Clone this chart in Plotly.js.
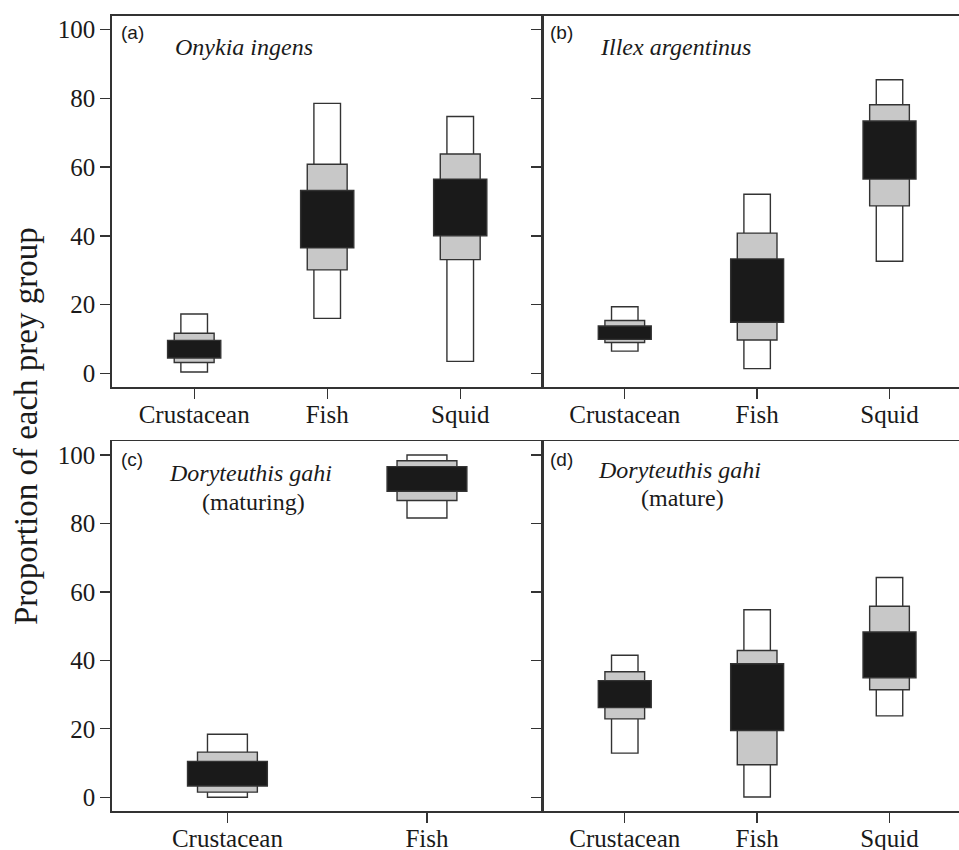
<!DOCTYPE html>
<html>
<head>
<meta charset="utf-8">
<script src="https://cdn.plot.ly/plotly-3.0.1.min.js"></script>
<style>html,body{margin:0;padding:0;background:#fff;}#chart{width:959px;height:850px;}</style>
</head>
<body>
<div id="chart"></div>
<script>
// ---- Data (credible intervals, % of diet) ----
const categories3 = ['Crustacean', 'Fish', 'Squid'];
const categories2 = ['Crustacean', 'Fish'];

// (a) Onykia ingens
const onykia95Lo = [0.4, 16.0, 3.5];
const onykia95Hi = [17.3, 78.5, 74.7];
const onykia75Lo = [3.2, 30.1, 33.1];
const onykia75Hi = [11.7, 60.8, 63.8];
const onykia50Lo = [4.5, 36.5, 40.0];
const onykia50Hi = [9.6, 53.2, 56.5];

// (b) Illex argentinus
const illex95Lo = [6.5, 1.4, 32.6];
const illex95Hi = [19.4, 52.1, 85.4];
const illex75Lo = [9.0, 9.7, 48.7];
const illex75Hi = [15.4, 40.8, 78.1];
const illex50Lo = [9.9, 14.9, 56.5];
const illex50Hi = [13.8, 33.3, 73.4];

// (c) Doryteuthis gahi (maturing)
const maturing95Lo = [0.0, 81.6];
const maturing95Hi = [18.4, 100.0];
const maturing75Lo = [1.5, 86.7];
const maturing75Hi = [13.2, 98.3];
const maturing50Lo = [3.3, 89.4];
const maturing50Hi = [10.5, 96.6];

// (d) Doryteuthis gahi (mature)
const mature95Lo = [12.9, 0.1, 23.8];
const mature95Hi = [41.5, 54.8, 64.2];
const mature75Lo = [22.9, 9.5, 31.4];
const mature75Hi = [36.7, 42.9, 55.8];
const mature50Lo = [26.2, 19.5, 34.9];
const mature50Hi = [34.1, 39.0, 48.3];

const yTicks = [0, 20, 40, 60, 80, 100];

// ---- Build traces ----
const W = 959, H = 850;
const LINE = '#333333';
const styles = [
  {fill: '#ffffff', width: 0.2},
  {fill: '#c8c8c8', width: 0.3},
  {fill: '#1a1a1a', width: 0.4}
];

function panelTraces(cats, los, his, xa, ya) {
  return los.map((lo, i) => ({
    type: 'bar',
    x: cats,
    base: lo,
    y: his[i].map((h, j) => h - lo[j]),
    width: cats.map(() => styles[i].width),
    marker: {color: styles[i].fill, line: {color: LINE, width: 1.4}},
    xaxis: xa, yaxis: ya,
    hoverinfo: 'skip',
    showlegend: false
  }));
}

const data = [].concat(
  panelTraces(categories3, [onykia95Lo, onykia75Lo, onykia50Lo], [onykia95Hi, onykia75Hi, onykia50Hi], 'x', 'y'),
  panelTraces(categories3, [illex95Lo, illex75Lo, illex50Lo], [illex95Hi, illex75Hi, illex50Hi], 'x2', 'y2'),
  panelTraces(categories2, [maturing95Lo, maturing75Lo, maturing50Lo], [maturing95Hi, maturing75Hi, maturing50Hi], 'x3', 'y3'),
  panelTraces(categories3, [mature95Lo, mature75Lo, mature50Lo], [mature95Hi, mature75Hi, mature50Hi], 'x4', 'y4')
);

// ---- Layout helpers ----
const px = v => v / W;
const py = v => 1 - v / H;
const serif = 'Liberation Serif';
const sans = 'Liberation Sans';
const TXT = '#1a1a1a';

function xAxis(dom, range, cats, anchor) {
  return {
    domain: dom, anchor: anchor, type: 'category',
    categoryorder: 'array', categoryarray: cats,
    range: range, showline: true, linecolor: LINE, linewidth: 1.5,
    mirror: true, ticks: 'outside', ticklen: 10, tickwidth: 1.3, tickcolor: LINE,
    ticklabelstandoff: -6,
    showgrid: false, zeroline: false, fixedrange: true,
    tickfont: {family: serif, size: 25, color: TXT}
  };
}
function yAxis(dom, anchor, labels, mirror) {
  return {
    domain: dom, anchor: anchor, range: [-4, 104],
    tickvals: yTicks, ticktext: yTicks.map(String),
    showticklabels: labels,
    showline: true, linecolor: LINE, linewidth: 1.5, mirror: mirror,
    ticks: 'outside', ticklen: 10, tickwidth: 1.3, tickcolor: LINE,
    showgrid: false, zeroline: false, fixedrange: true,
    tickfont: {family: serif, size: 25, color: TXT}
  };
}

const leftDom = [px(111.7), px(542.7)];
const rightDom = [px(542.7), 1];
const topDom = [py(387.2), py(15.7)];
const botDom = [py(811), py(441.3)];

function ann(text, x, y, font, xanchor) {
  return {text: text, x: px(x), y: py(y), xref: 'paper', yref: 'paper',
    showarrow: false, xanchor: xanchor || 'center', yanchor: 'middle', font: font};
}
const labFont = {family: sans, size: 19, color: TXT};
const spFont = {family: serif, size: 24, color: TXT};

const layout = {
  width: W, height: H,
  margin: {l: 0, r: 0, t: 0, b: 0},
  paper_bgcolor: '#ffffff', plot_bgcolor: '#ffffff',
  barmode: 'overlay', showlegend: false,
  xaxis: xAxis(leftDom, [-0.62, 2.62], categories3, 'y'),
  yaxis: yAxis(topDom, 'x', true, true),
  xaxis2: xAxis(rightDom, [-0.62, 2.525], categories3, 'y2'),
  yaxis2: yAxis(topDom, 'x2', false, false),
  xaxis3: xAxis(leftDom, [-0.58, 1.58], categories2, 'y3'),
  yaxis3: yAxis(botDom, 'x3', true, true),
  xaxis4: xAxis(rightDom, [-0.62, 2.525], categories3, 'y4'),
  yaxis4: yAxis(botDom, 'x4', false, false),
  annotations: [
    ann('(a)', 119, 33, labFont, 'left'),
    ann('<i>Onykia ingens</i>', 244, 47, spFont),
    ann('(b)', 548, 33, labFont, 'left'),
    ann('<i>Illex argentinus</i>', 675, 47, spFont),
    ann('(c)', 119, 460, labFont, 'left'),
    ann('<i>Doryteuthis gahi</i>', 250, 473, spFont),
    ann('(maturing)', 253, 502, spFont),
    ann('(d)', 548, 460, labFont, 'left'),
    ann('<i>Doryteuthis gahi</i>', 679, 470, spFont),
    ann('(mature)', 682, 498, spFont),
    {text: 'Proportion of each prey group', x: px(26), y: py(426), xref: 'paper', yref: 'paper',
     showarrow: false, textangle: -90, xanchor: 'center', yanchor: 'middle',
     font: {family: serif, size: 33, color: TXT}}
  ]
};

Plotly.newPlot('chart', data, layout, {staticPlot: true, displayModeBar: false});
</script>
</body>
</html>
